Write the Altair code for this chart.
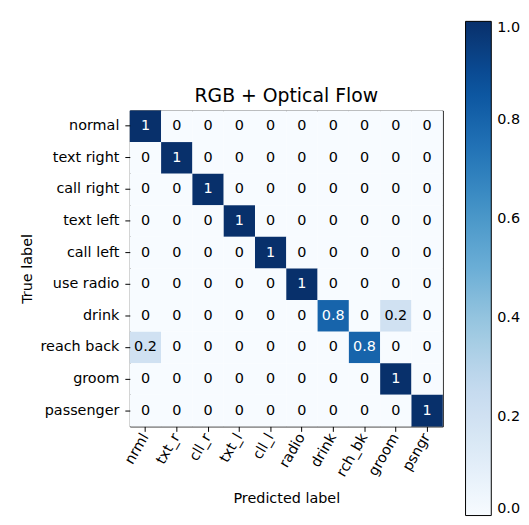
import altair as alt
import pandas as pd

true_labels = ["normal", "text right", "call right", "text left", "call left",
               "use radio", "drink", "reach back", "groom", "passenger"]
pred_labels = ["nrml", "txt_r", "cll_r", "txt_l", "cll_l",
               "radio", "drink", "rch_bk", "groom", "psngr"]
matrix = [
    [1, 0, 0, 0, 0, 0, 0, 0, 0, 0],
    [0, 1, 0, 0, 0, 0, 0, 0, 0, 0],
    [0, 0, 1, 0, 0, 0, 0, 0, 0, 0],
    [0, 0, 0, 1, 0, 0, 0, 0, 0, 0],
    [0, 0, 0, 0, 1, 0, 0, 0, 0, 0],
    [0, 0, 0, 0, 0, 1, 0, 0, 0, 0],
    [0, 0, 0, 0, 0, 0, 0.8, 0, 0.2, 0],
    [0.2, 0, 0, 0, 0, 0, 0, 0.8, 0, 0],
    [0, 0, 0, 0, 0, 0, 0, 0, 1, 0],
    [0, 0, 0, 0, 0, 0, 0, 0, 0, 1],
]
colorbar_ticks = [0.0, 0.2, 0.4, 0.6, 0.8, 1.0]

rows = []
for i, t in enumerate(true_labels):
    for j, p in enumerate(pred_labels):
        rows.append({"true": t, "pred": p, "value": matrix[i][j]})
df = pd.DataFrame(rows)

blues = ["#f7fbff", "#deebf7", "#c6dbef", "#9ecae1", "#6baed6",
         "#4292c6", "#2171b5", "#08519c", "#08306b"]
blues_domain = [k / 8 for k in range(9)]

FONT = "DejaVu Sans"
FS = 14.5

x_enc = alt.X("pred:N", sort=pred_labels, title="Predicted label",
              scale=alt.Scale(paddingInner=0, paddingOuter=0),
              axis=alt.Axis(labelAngle=-60, labelFontSize=FS, titleFontSize=FS,
                            tickSize=5, tickColor="black", domain=False,
                            labelPadding=3, titlePadding=13, labelColor="black",
                            titleColor="black", titleFontWeight="normal",
                            labelFont=FONT, titleFont=FONT))
y_enc = alt.Y("true:N", sort=true_labels, title="True label",
              scale=alt.Scale(paddingInner=0, paddingOuter=0),
              axis=alt.Axis(labelFontSize=FS, titleFontSize=FS,
                            tickSize=5, tickColor="black", domain=False,
                            labelPadding=6, titlePadding=6, labelColor="black",
                            titleColor="black", titleFontWeight="normal",
                            labelFont=FONT, titleFont=FONT))

rect = alt.Chart(df).mark_rect().encode(
    x=x_enc,
    y=y_enc,
    color=alt.Color("value:Q",
                    scale=alt.Scale(domain=blues_domain, range=blues),
                    legend=alt.Legend(
                        title=None, orient="none", legendX=339, legendY=-90,
                        direction="vertical", gradientLength=499,
                        gradientThickness=26, gradientStrokeColor="black",
                        gradientStrokeWidth=1, values=colorbar_ticks,
                        format=".1f", labelFontSize=FS, labelFont=FONT,
                        labelColor="black", labelOffset=6)),
)

text = alt.Chart(df).mark_text(fontSize=FS, font=FONT).encode(
    x=alt.X("pred:N", sort=pred_labels),
    y=alt.Y("true:N", sort=true_labels),
    text=alt.Text("value:Q", format="~g"),
    color=alt.condition(alt.datum.value > 0.5, alt.value("white"), alt.value("black")),
)

chart = alt.layer(rect, text).properties(
    width=316, height=319,
    title=alt.TitleParams("RGB + Optical Flow", fontSize=19, font=FONT,
                          fontWeight="normal", color="black", offset=-85,
                          frame="group"),
    padding={"left": 11, "top": 11, "right": 0, "bottom": 0},
).configure_view(stroke="black", strokeWidth=1)

chart.save("out.html", embed_options={"renderer": "svg", "actions": False})
